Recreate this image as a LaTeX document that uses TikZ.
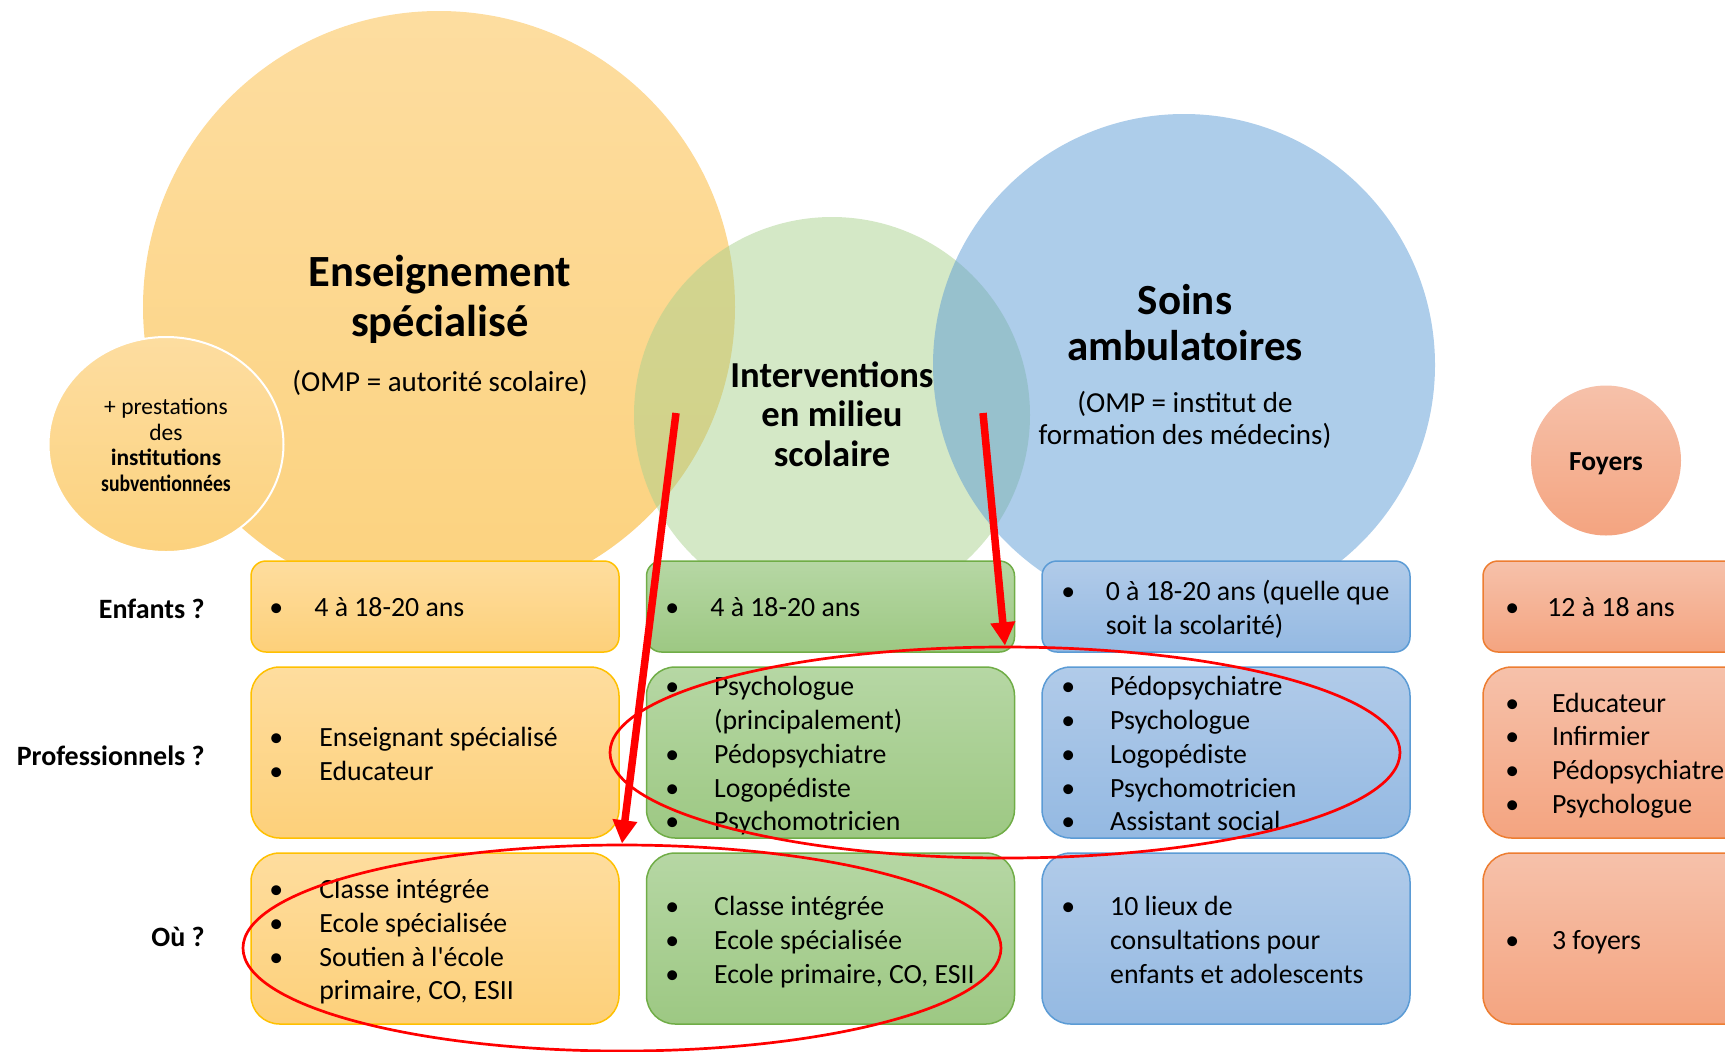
\documentclass[tikz,border=0pt]{standalone}
\usepackage{fontspec}
\usepackage{graphicx}
\setmainfont{Carlito}
\usetikzlibrary{shapes.geometric,arrows.meta}

\definecolor{orT}{RGB}{254,221,158}
\definecolor{orBt}{RGB}{253,208,122}
\definecolor{orLine}{RGB}{255,192,0}
\definecolor{ciT}{RGB}{253,221,160}
\definecolor{ciB}{RGB}{252,210,126}
\definecolor{grT}{RGB}{182,215,164}
\definecolor{grB}{RGB}{157,200,131}
\definecolor{grLine}{RGB}{112,173,71}
\definecolor{grC}{RGB}{169,209,142}
\definecolor{blT}{RGB}{177,203,233}
\definecolor{blB}{RGB}{148,185,226}
\definecolor{blLine}{RGB}{91,155,213}
\definecolor{blC}{RGB}{91,155,213}
\definecolor{saT}{RGB}{246,193,170}
\definecolor{saB}{RGB}{244,164,128}
\definecolor{saLine}{RGB}{237,125,49}

\newcommand\blist[2]{{\fontsize{13.9pt}{16.9pt}\selectfont\begin{tabular}{@{}p{#1}@{}l@{}}#2\end{tabular}}}

\tikzset{
  rbox/.style={line width=0.75pt, inner sep=0pt, minimum width=184pt},
  rowA/.style={minimum height=45.5pt, rounded corners=7.5pt},
  rowB/.style={minimum height=85.5pt, rounded corners=14.3pt},
  orbox/.style={rbox, draw=orLine, top color=orT, bottom color=orBt},
  grbox/.style={rbox, draw=grLine, top color=grT, bottom color=grB},
  blbox/.style={rbox, draw=blLine, top color=blT, bottom color=blB},
  sabox/.style={rbox, draw=saLine, top color=saT, bottom color=saB},
  txt/.style={inner sep=0pt, anchor=west},
  rowlab/.style={font=\fontsize{14pt}{16pt}\selectfont\bfseries, anchor=mid east, inner sep=0pt},
  bigtitle/.style={font=\fontsize{22.3pt}{24.75pt}\selectfont\bfseries, align=center, inner sep=0pt},
  subtitle/.style={font=\fontsize{14.5pt}{16pt}\selectfont, align=center, inner sep=0pt},
  redell/.style={draw=red, line width=1.35pt, ellipse, inner sep=0pt},
  redarrow/.style={draw=red, line width=3.75pt, -{Triangle[length=11.7pt,width=11.7pt]}},
}

\begin{document}
\begin{tikzpicture}[x=0.5pt,y=-0.5pt]
\clip (0,0) rectangle (1725,1051);

% big circles
\node[circle, minimum size=296pt, inner sep=0pt, top color=ciT, bottom color=ciB] (cEns) at (439,307) {};
\node[ellipse, minimum width=117.5pt, minimum height=107.5pt, inner sep=0pt, draw=white, line width=1pt, top color=ciT, bottom color=ciB] (cPrest) at (166,444.5) {};
\node[circle, minimum size=198pt, inner sep=0pt, fill=grC, fill opacity=0.5] (cInt) at (832,415) {};
\node[circle, minimum size=251pt, inner sep=0pt, fill=blC, fill opacity=0.5] (cSoins) at (1184,365) {};
\node[circle, minimum size=75pt, inner sep=0pt, top color=saT, bottom color=saB] (cFoy) at (1606,460.5) {};

% titles
\node[bigtitle] (tEns) at (440,299.5) {Enseignement\\spécialisé};
\node[subtitle] (sEns) at (440,383) {(OMP = autorité scolaire)};
\node[font=\fontsize{18.3pt}{19.75pt}\selectfont\bfseries, align=center, inner sep=0pt] (tInt) at (832,414) {Interventions\\en milieu\\scolaire};
\node[bigtitle, font=\fontsize{21.5pt}{23pt}\selectfont\bfseries] (tSoins) at (1185,322.5) {Soins\\ambulatoires};
\node[subtitle] (sSoins) at (1185,420) {(OMP = institut de\\formation des médecins)};
\node[font=\fontsize{11.75pt}{12.85pt}\selectfont, align=center, inner sep=0pt] (tPrest) at (166,445) {+ prestations\\des\\\textbf{institutions}\\\textbf{\scalebox{0.84}[1]{subventionnées}}};
\node[font=\fontsize{13.75pt}{16pt}\selectfont\bfseries, inner sep=0pt] (tFoy) at (1606,464) {Foyers};

% row labels
\node[rowlab] (lEnf) at (205,613.5) {Enfants ?};
\node[rowlab] (lPro) at (205,761) {Professionnels ?};
\node[rowlab] (lOu) at (205,942) {Où ?};

% boxes
\node[orbox, rowA] (b11) at (435,606.5) {};
\node[grbox, rowA] (b21) at (830.5,606.5) {};
\node[blbox, rowA] (b31) at (1226,606.5) {};
\node[sabox, rowA] (b41) at (1667,606.5) {};
\node[orbox, rowB] (b12) at (435,752.5) {};
\node[grbox, rowB] (b22) at (830.5,752.5) {};
\node[blbox, rowB] (b32) at (1226,752.5) {};
\node[sabox, rowB] (b42) at (1667,752.5) {};
\node[orbox, rowB] (b13) at (435,938.5) {};
\node[grbox, rowB] (b23) at (830.5,938.5) {};
\node[blbox, rowB] (b33) at (1226,938.5) {};
\node[sabox, rowB] (b43) at (1667,938.5) {};

% box contents
\node[txt] (x11) at (269,609.5) {\blist{22.5pt}{\textbullet & 4 à 18-20 ans}};
\node[txt] (x21) at (665,609.5) {\blist{22.5pt}{\textbullet & 4 à 18-20 ans}};
\node[txt] (x31) at (1061,611) {\blist{22.2pt}{\textbullet & 0 à 18-20 ans (quelle que\\ & soit la scolarité)}};
\node[txt] (x41) at (1505,609.5) {\blist{21pt}{\textbullet & 12 à 18 ans}};

\node[txt] (x12) at (269,756.5) {\blist{25pt}{\textbullet & Enseignant spécialisé\\ \textbullet & Educateur}};
\node[txt] (x22) at (665,756.5) {\blist{24.4pt}{\textbullet & Psychologue\\ & (principalement)\\ \textbullet & Pédopsychiatre\\ \textbullet & Logopédiste\\ \textbullet & Psychomotricien}};
\node[txt] (x32) at (1061,756.5) {\blist{24.4pt}{\textbullet & Pédopsychiatre\\ \textbullet & Psychologue\\ \textbullet & Logopédiste\\ \textbullet & Psychomotricien\\ \textbullet & Assistant social}};
\node[txt] (x42) at (1505,756) {\blist{23.3pt}{\textbullet & Educateur\\ \textbullet & Infirmier\\ \textbullet & Pédopsychiatre\\ \textbullet & Psychologue}};

\node[txt] (x13) at (269,942.5) {\blist{25pt}{\textbullet & Classe intégrée\\ \textbullet & Ecole spécialisée\\ \textbullet & Soutien à l\textquotesingle école\\ & primaire, CO, ESII}};
\node[txt] (x23) at (665,943) {\blist{24.4pt}{\textbullet & Classe intégrée\\ \textbullet & Ecole spécialisée\\ \textbullet & Ecole primaire, CO, ESII}};
\node[txt] (x33) at (1061,943) {\blist{24.4pt}{\textbullet & 10 lieux de\\ & consultations pour\\ & enfants et adolescents}};
\node[txt] (x43) at (1505,943) {\blist{23.3pt}{\textbullet & 3 foyers}};

% red ellipses and arrows
\node[redell, minimum width=395pt, minimum height=105.5pt] (e1) at (1005,752.5) {};
\node[redell, minimum width=379pt, minimum height=103pt] (e2) at (622,948) {};
\coordinate (a1s) at (676,413);
\coordinate (a2s) at (983,413);
\draw[redarrow] (a1s) -- (e2.north);
\draw[redarrow] (a2s) -- (e1.north);
\end{tikzpicture}
\end{document}
